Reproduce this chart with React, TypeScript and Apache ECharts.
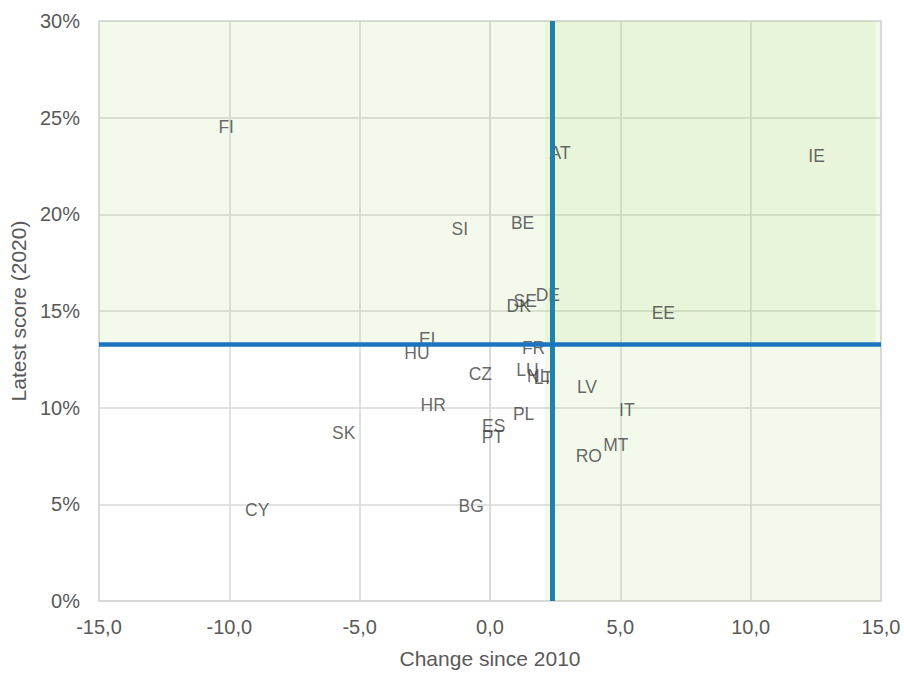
import React, { useEffect, useRef } from "react";
import * as echarts from "echarts";

const countries = ["FI", "AT", "IE", "SI", "BE", "DE", "SE", "DK", "EE", "EL", "HU", "FR", "CZ", "LU", "NL", "LT", "LV", "IT", "HR", "SK", "PL", "ES", "PT", "MT", "RO", "BG", "CY"];
const changeSince2010 = [-10.12, 2.69, 12.53, -1.16, 1.25, 2.22, 1.35, 1.1, 6.65, -2.31, -2.8, 1.67, -0.37, 1.44, 1.85, 2.05, 3.72, 5.25, -2.18, -5.61, 1.29, 0.14, 0.11, 4.83, 3.79, -0.72, -8.93];
const latestScore = [24.52, 23.15, 23.0, 19.22, 19.56, 15.84, 15.51, 15.26, 14.92, 13.55, 12.81, 13.09, 11.72, 11.96, 11.62, 11.55, 11.07, 9.88, 10.16, 8.68, 9.65, 9.06, 8.46, 8.08, 7.52, 4.92, 4.7];

const avgChange = 2.38;
const avgScore = 13.3;

const xTicks = [-15, -10, -5, 0, 5, 10, 15];
const yTicks = [0, 5, 10, 15, 20, 25, 30];

const FONT = "'Liberation Sans', Arial, sans-serif";

export default function App() {
  const ref = useRef<HTMLDivElement>(null);
  useEffect(() => {
    document.body.style.margin = "0";
    if (!ref.current) return;
    const chart = echarts.init(ref.current, null, { renderer: "svg" });
    const light = "rgba(146,208,80,0.11)";
    const dark = "rgba(146,208,80,0.21)";
    const shadeSplit = 2.12;
    const shadeRight = 14.8;
    chart.setOption({
      animation: false,
      textStyle: { fontFamily: FONT },
      grid: {
        left: 98,
        right: 23,
        top: 21,
        bottom: 68,
        show: true,
        borderColor: "#d9d9d9",
        borderWidth: 1.5,
        backgroundColor: "transparent",
      },
      xAxis: {
        type: "value",
        min: xTicks[0],
        max: xTicks[xTicks.length - 1],
        interval: 5,
        name: "Change since 2010",
        nameLocation: "middle",
        nameGap: 47,
        nameTextStyle: { color: "#595959", fontSize: 21, fontFamily: FONT },
        axisLine: { show: true, lineStyle: { color: "#d9d9d9", width: 1.5 } },
        axisTick: { show: false },
        axisLabel: {
          color: "#595959",
          fontSize: 20,
          fontFamily: FONT,
          margin: 16,
          formatter: (v: number) => v.toFixed(1).replace(".", ","),
        },
        splitLine: { show: true, lineStyle: { color: "#d9d9d9", width: 1.5 } },
      },
      yAxis: {
        type: "value",
        min: yTicks[0],
        max: yTicks[yTicks.length - 1],
        interval: 5,
        name: "Latest score (2020)",
        nameLocation: "middle",
        nameGap: 70,
        nameTextStyle: { color: "#595959", fontSize: 21, fontFamily: FONT },
        axisLine: { show: true, lineStyle: { color: "#d9d9d9", width: 1.5 } },
        axisTick: { show: false },
        axisLabel: {
          color: "#595959",
          fontSize: 20,
          fontFamily: FONT,
          margin: 19,
          formatter: (v: number) => `${v}%`,
        },
        splitLine: { show: true, lineStyle: { color: "#d9d9d9", width: 1.5 } },
      },
      series: [
        {
          type: "scatter",
          symbolSize: 0,
          data: countries.map((c, i) => ({ name: c, value: [changeSince2010[i], latestScore[i]] })),
          label: {
            show: true,
            position: "inside",
            formatter: (p: any) => p.name,
            color: "#404040",
            fontSize: 17.5,
            fontFamily: FONT,
          },
          markArea: {
            silent: true,
            data: [
              [
                { xAxis: xTicks[0], yAxis: avgScore, itemStyle: { color: light } },
                { xAxis: shadeSplit, yAxis: yTicks[yTicks.length - 1] },
              ],
              [
                { xAxis: shadeSplit, yAxis: avgScore, itemStyle: { color: dark } },
                { xAxis: shadeRight, yAxis: yTicks[yTicks.length - 1] },
              ],
              [
                { xAxis: shadeRight, yAxis: avgScore, itemStyle: { color: light } },
                { xAxis: xTicks[xTicks.length - 1], yAxis: yTicks[yTicks.length - 1] },
              ],
              [
                { xAxis: shadeSplit, yAxis: yTicks[0], itemStyle: { color: light } },
                { xAxis: xTicks[xTicks.length - 1], yAxis: avgScore },
              ],
            ],
          },
          markLine: {
            silent: true,
            symbol: "none",
            label: { show: false },
            data: [
              { xAxis: avgChange, lineStyle: { color: "#1e82ad", width: 5, type: "solid" } },
              { yAxis: avgScore, lineStyle: { color: "#1a74c0", width: 4.5, type: "solid" } },
            ],
          },
        },
      ],
    });
    return () => chart.dispose();
  }, []);
  return <div ref={ref} style={{ width: 904, height: 674 }} />;
}
